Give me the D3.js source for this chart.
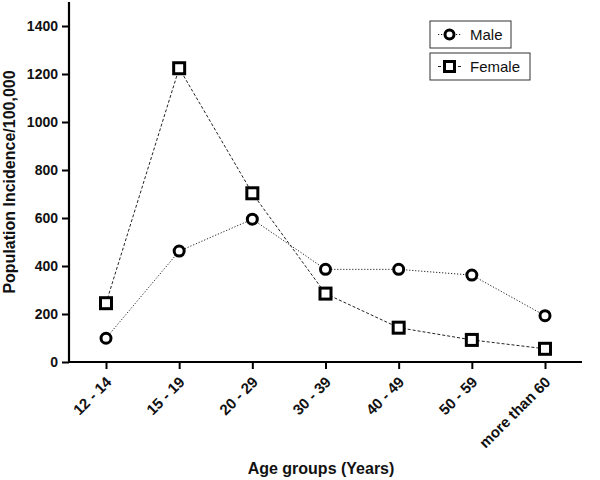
<!DOCTYPE html>
<html>
<head>
<meta charset="utf-8">
<script src="https://cdn.jsdelivr.net/npm/d3@7"></script>
<style>
  body { margin: 0; background: #fff; }
  svg { display: block; font-family: "Liberation Sans", Arial, sans-serif; }
</style>
</head>
<body>
<svg id="chart" width="600" height="480"></svg>
<script>
const ageGroups = ["12 - 14", "15 - 19", "20 - 29", "30 - 39", "40 - 49", "50 - 59", "more than 60"];
const maleValues = [99, 462, 595, 386, 386, 362, 193];
const femaleValues = [245, 1224, 703, 285, 143, 92, 55];
const yTicks = [0, 200, 400, 600, 800, 1000, 1200, 1400];

const svg = d3.select("svg#chart");
const margin = { left: 69, top: 2, right: 18, bottom: 118 };
const width = 600 - margin.left - margin.right;
const height = 480 - margin.top - margin.bottom;

const g = svg.append("g").attr("transform", `translate(${margin.left}, ${margin.top})`);

const x = d3.scalePoint().domain(ageGroups).range([37, 476]);
const y = d3.scaleLinear().domain([0, 1400]).range([height, 24]);

// axes
const xAxis = g.append("g")
  .attr("transform", `translate(0, ${height})`)
  .call(d3.axisBottom(x).tickSizeOuter(0).tickSize(7));
xAxis.select(".domain").attr("d", `M0,0H${width}`);
xAxis.selectAll(".tick text")
  .attr("x", 0)
  .attr("y", 0)
  .attr("dy", 0)
  .attr("transform", "translate(6, 21) rotate(-45)")
  .style("text-anchor", "end")
  .style("font-size", "15px");

const yAxis = g.append("g")
  .call(d3.axisLeft(y).tickValues(yTicks).tickFormat(d3.format("d"))
    .tickSizeOuter(0).tickSize(7).tickPadding(4));
yAxis.select(".domain").attr("d", `M0,${height}V0`);
yAxis.selectAll(".tick text").style("font-size", "14px");

svg.selectAll(".domain").attr("stroke", "#000").attr("stroke-width", 2.2);
svg.selectAll(".tick line").attr("stroke", "#000").attr("stroke-width", 2);
svg.selectAll(".tick text")
  .attr("fill", "#111")
  .style("font-weight", "bold");

// lines
const line = d3.line().x((d, i) => x(ageGroups[i])).y((d) => y(d));

g.append("path")
  .datum(maleValues)
  .attr("d", line)
  .attr("fill", "none")
  .attr("stroke", "#222")
  .attr("stroke-width", 1)
  .attr("stroke-dasharray", "1.2,1.8");

g.append("path")
  .datum(femaleValues)
  .attr("d", line)
  .attr("fill", "none")
  .attr("stroke", "#222")
  .attr("stroke-width", 1)
  .attr("stroke-dasharray", "3,2");

// markers
g.selectAll("circle.male")
  .data(maleValues)
  .join("circle")
  .attr("class", "male")
  .attr("cx", (d, i) => x(ageGroups[i]))
  .attr("cy", (d) => y(d))
  .attr("r", 5)
  .attr("fill", "#fff")
  .attr("stroke", "#000")
  .attr("stroke-width", 3);

g.selectAll("rect.female")
  .data(femaleValues)
  .join("rect")
  .attr("class", "female")
  .attr("x", (d, i) => x(ageGroups[i]) - 5.5)
  .attr("y", (d) => y(d) - 5.5)
  .attr("width", 11)
  .attr("height", 11)
  .attr("fill", "#fff")
  .attr("stroke", "#000")
  .attr("stroke-width", 3);

// axis titles
svg.append("text")
  .attr("transform", "translate(15, 182) rotate(-90)")
  .attr("text-anchor", "middle")
  .style("font-size", "16px")
  .style("font-weight", "bold")
  .attr("fill", "#111")
  .text("Population Incidence/100,000");

svg.append("text")
  .attr("x", 321)
  .attr("y", 474)
  .attr("text-anchor", "middle")
  .style("font-size", "16px")
  .style("font-weight", "bold")
  .attr("fill", "#111")
  .text("Age groups (Years)");

// legend
const legend = svg.append("g");
const legendItems = [
  { name: "Male", shape: "circle", dash: "1.2,1.8", y: 21, w: 81 },
  { name: "Female", shape: "square", dash: "3,2", y: 53, w: 100 },
];
legendItems.forEach((it) => {
  const lg = legend.append("g").attr("transform", `translate(430, ${it.y})`);
  lg.append("rect")
    .attr("width", it.w).attr("height", 27)
    .attr("fill", "#fff").attr("stroke", "#333").attr("stroke-width", 1);
  lg.append("line")
    .attr("x1", 8).attr("x2", 31).attr("y1", 13.5).attr("y2", 13.5)
    .attr("stroke", "#222").attr("stroke-dasharray", it.dash);
  if (it.shape === "circle") {
    lg.append("circle").attr("cx", 19.5).attr("cy", 13.5).attr("r", 4.5)
      .attr("fill", "#fff").attr("stroke", "#000").attr("stroke-width", 3);
  } else {
    lg.append("rect").attr("x", 14.5).attr("y", 8.5).attr("width", 10).attr("height", 10)
      .attr("fill", "#fff").attr("stroke", "#000").attr("stroke-width", 3);
  }
  lg.append("text")
    .attr("x", 40).attr("y", 19)
    .style("font-size", "15px")
    .attr("fill", "#111")
    .text(it.name);
});
</script>
</body>
</html>
